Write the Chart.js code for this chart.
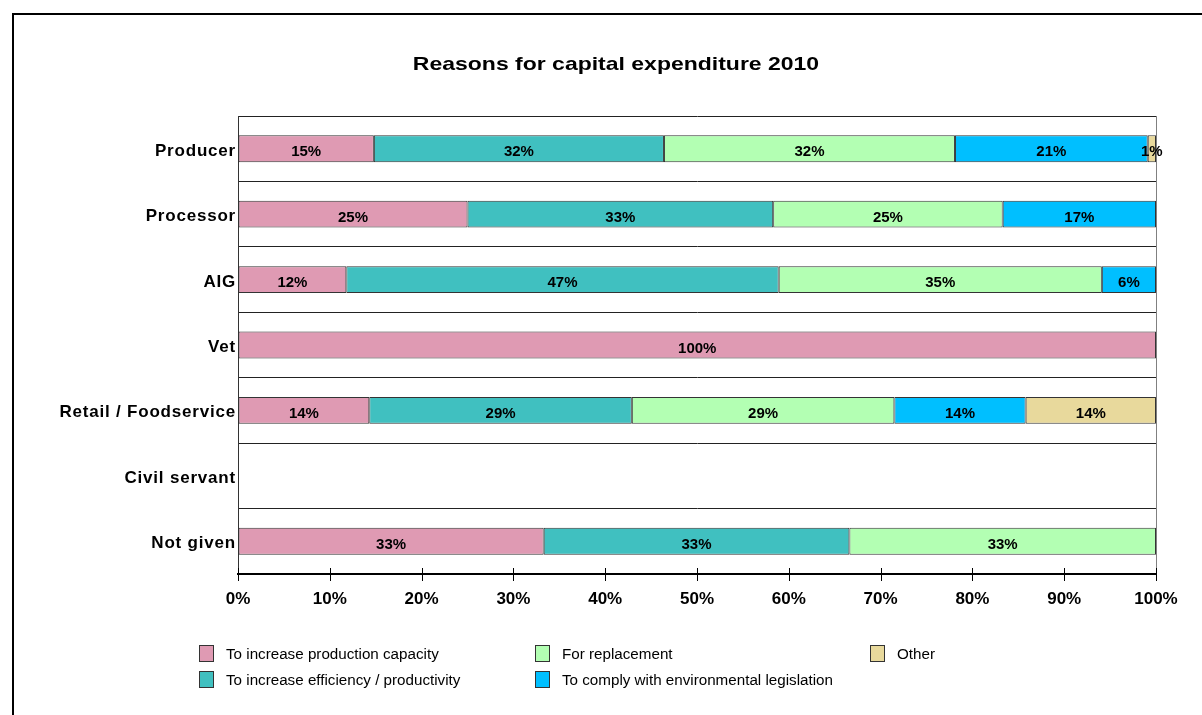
<!DOCTYPE html>
<html lang="en">
<head>
<meta charset="UTF-8">
<title>Reasons for capital expenditure 2010</title>
<script src="https://cdn.jsdelivr.net/npm/chart.js"></script>
<style>
  html, body { margin: 0; padding: 0; background: #fff; overflow: hidden; }
  #wrap { position: relative; width: 1202px; height: 715px; font-family: "Liberation Sans", Arial, sans-serif; }
  #frame { position: absolute; left: 12px; top: 13px; width: 1400px; height: 900px;
           border-left: 2px solid #000; border-top: 2px solid #000; }
  #chart { position: absolute; left: 0; top: 0; }
  #title { position: absolute; left: 616px; top: 54px; white-space: nowrap;
           font-size: 19px; line-height: 19px; font-weight: bold; color: #000;
           transform: translateX(-50%) scaleX(1.21); }
  #legend { position: absolute; left: 199px; top: 645px; display: grid;
            grid-auto-flow: column; grid-template-rows: 17px 17px; row-gap: 9px;
            grid-template-columns: 336px 335px auto; }
  .item { display: flex; align-items: center; font-size: 15.2px; line-height: 17px; color: #000; }
  .box { width: 13px; height: 15px; border: 1px solid #333; margin-right: 12px; flex: none; }
</style>
</head>
<body>
<div id="wrap">
  <div id="frame"></div>
  <canvas id="chart" width="1202" height="715"></canvas>
  <div id="title">Reasons for capital expenditure 2010</div>
  <div id="legend"></div>
</div>

<script>
// respondent groups
const categories = ['Producer', 'Processor', 'AIG', 'Vet', 'Retail / Foodservice', 'Civil servant', 'Not given'];

// share of answers per group, %
const capacity    = [14.8, 25.0, 11.8, 100, 14.3, 0, 33.3];
const efficiency  = [31.6, 33.3, 47.1, 0, 28.6, 0, 33.3];
const replacement = [31.7, 25.0, 35.2, 0, 28.6, 0, 33.4];
const environment = [21.0, 16.7, 5.9, 0, 14.3, 0, 0];
const other       = [0.9, 0, 0, 0, 14.2, 0, 0];

const xTicks = [0, 10, 20, 30, 40, 50, 60, 70, 80, 90, 100];

const series = [
  { label: 'To increase production capacity', data: capacity, color: '#DF9AB3' },
  { label: 'To increase efficiency / productivity', data: efficiency, color: '#40C0C0' },
  { label: 'For replacement', data: replacement, color: '#B3FFB3' },
  { label: 'To comply with environmental legislation', data: environment, color: '#00BFFF' },
  { label: 'Other', data: other, color: '#E8D99C' }
];

const FONT = '"Liberation Sans", Arial, sans-serif';

// percent labels in the middle of each segment
const segmentLabels = {
  id: 'segmentLabels',
  afterDatasetsDraw(chart) {
    const ctx = chart.ctx;
    ctx.save();
    ctx.font = 'bold 15px ' + FONT;
    ctx.fillStyle = '#000';
    ctx.textAlign = 'center';
    ctx.textBaseline = 'alphabetic';
    chart.data.datasets.forEach((ds, i) => {
      chart.getDatasetMeta(i).data.forEach((bar, j) => {
        const v = ds.data[j];
        if (!v) return;
        ctx.fillText(Math.round(v) + '%', (bar.x + bar.base) / 2, bar.y + 7.5);
      });
    });
    ctx.restore();
  }
};

// category names (spaced out) and the ticks crossing the value axis
const axisExtras = {
  id: 'axisExtras',
  afterDraw(chart) {
    const ctx = chart.ctx;
    const ys = chart.scales.y, xs = chart.scales.x;
    ctx.save();
    ctx.font = 'bold 17px ' + FONT;
    ctx.letterSpacing = '0.8px';
    ctx.fillStyle = '#000';
    ctx.textAlign = 'right';
    ctx.textBaseline = 'alphabetic';
    categories.forEach((c, i) => {
      ctx.fillText(c, ys.right - 2, ys.getPixelForValue(i) + 7);
    });
    ctx.strokeStyle = '#000';
    ctx.lineWidth = 1;
    const b = chart.chartArea.bottom;
    xs.ticks.forEach((t, i) => {
      const x = Math.round(xs.getPixelForTick(i)) + 0.5;
      ctx.beginPath();
      ctx.moveTo(x, b - 6);
      ctx.lineTo(x, b + 7);
      ctx.stroke();
    });
    ctx.restore();
  }
};

new Chart(document.getElementById('chart'), {
  type: 'bar',
  data: {
    labels: categories,
    datasets: series.map(s => ({
      label: s.label,
      data: s.data,
      backgroundColor: s.color,
      borderColor: '#333',
      borderWidth: 1,
      borderSkipped: false,
      barPercentage: 0.41,
      categoryPercentage: 1
    }))
  },
  options: {
    indexAxis: 'y',
    responsive: false,
    animation: false,
    layout: { padding: { top: 116, right: 46, bottom: 101, left: 0 } },
    plugins: {
      legend: { display: false },
      title: { display: false },
      tooltip: { enabled: false }
    },
    scales: {
      x: {
        stacked: true,
        min: 0,
        max: 100,
        afterBuildTicks: s => { s.ticks = xTicks.map(v => ({ value: v })); },
        afterFit: s => { s.height = 40; },
        ticks: {
          callback: v => v + '%',
          color: '#000',
          font: { family: FONT, size: 17, weight: 'bold' },
          padding: 15,
          maxRotation: 0
        },
        grid: {
          drawTicks: false,
          color: c => (c.tick && c.tick.value === 100 ? '#808080' : 'rgba(0,0,0,0)'),
          lineWidth: 1
        },
        border: { display: true, color: '#000', width: 2 }
      },
      y: {
        stacked: true,
        afterFit: s => { s.width = 238; },
        ticks: { display: false },
        grid: { offset: true, drawTicks: false, color: '#222', lineWidth: 1 },
        border: { display: true, color: '#333', width: 1 }
      }
    }
  },
  plugins: [segmentLabels, axisExtras]
});

// legend laid out column by column, two rows
const legend = document.getElementById('legend');
series.forEach(s => {
  const item = document.createElement('div');
  item.className = 'item';
  const box = document.createElement('span');
  box.className = 'box';
  box.style.background = s.color;
  item.appendChild(box);
  item.appendChild(document.createTextNode(s.label));
  legend.appendChild(item);
});
</script>
</body>
</html>
